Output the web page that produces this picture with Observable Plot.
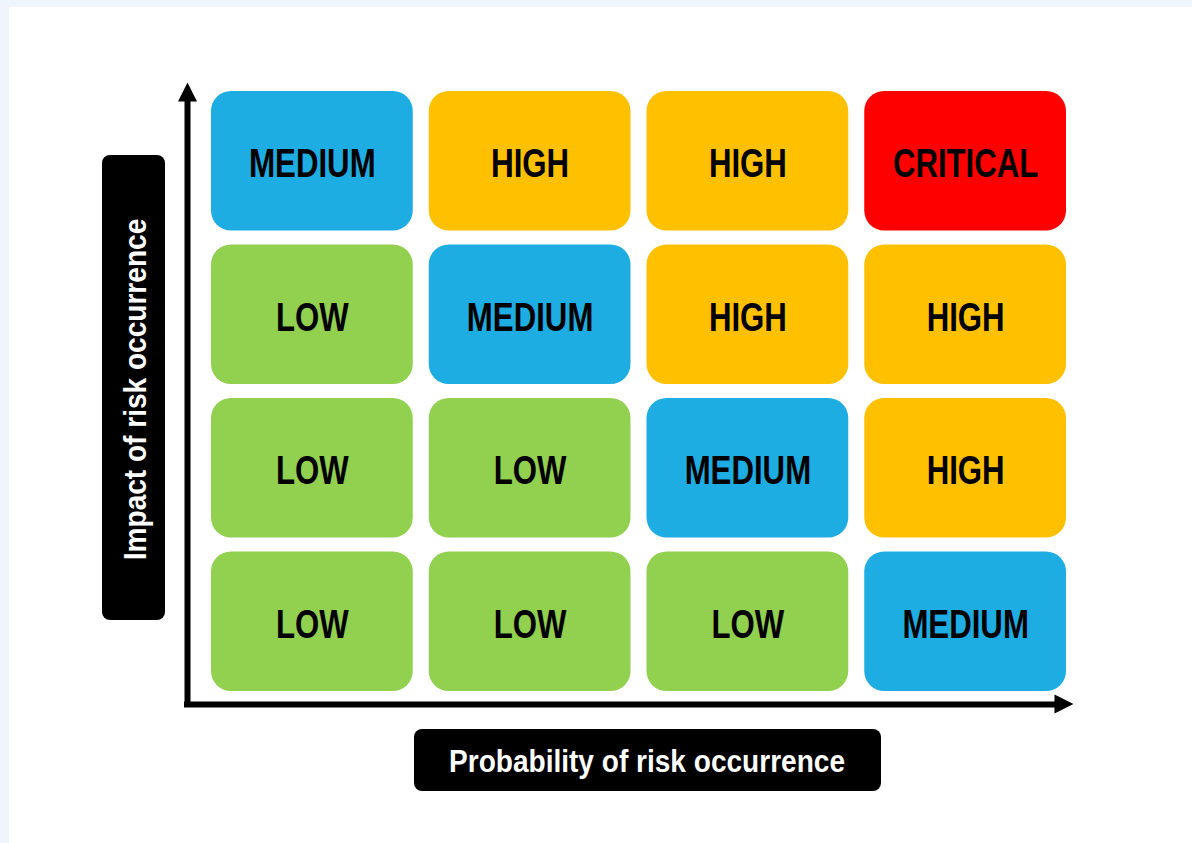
<!DOCTYPE html>
<html>
<head>
<meta charset="utf-8">
<script src="https://cdn.jsdelivr.net/npm/d3@7"></script>
<script src="https://cdn.jsdelivr.net/npm/@observablehq/plot@0.6"></script>
<style>
  html, body { margin: 0; padding: 0; background: #eef5fc; }
  #card { position: absolute; left: 9px; top: 7px; width: 1183px; height: 836px; background: #ffffff; }
  #card svg { display: block; }
</style>
</head>
<body>
<div id="card"></div>
<script>
// ---- data ----
const probabilityLevels = [1, 2, 3, 4];          // columns, left to right
const impactLevels = [4, 3, 2, 1];               // rows, top to bottom
const riskRows = [
  ["MEDIUM", "HIGH", "HIGH", "CRITICAL"],        // impact 4
  ["LOW", "MEDIUM", "HIGH", "HIGH"],             // impact 3
  ["LOW", "LOW", "MEDIUM", "HIGH"],              // impact 2
  ["LOW", "LOW", "LOW", "MEDIUM"]                // impact 1
];
const ratingNames = ["LOW", "MEDIUM", "HIGH", "CRITICAL"];
const ratingColors = ["#92d050", "#1eade3", "#ffc000", "#ff0000"];
const xLabel = "Probability of risk occurrence";
const yLabel = "Impact of risk occurrence";

const cells = [];
impactLevels.forEach((impact, r) => {
  probabilityLevels.forEach((p, c) => {
    cells.push({probability: p, impact, rating: riskRows[r][c]});
  });
});

const font = "'Liberation Sans', Arial, sans-serif";

const triUp = {draw(ctx, size) { const r = Math.sqrt(size / Math.PI); ctx.moveTo(0, -r); ctx.lineTo(r, r); ctx.lineTo(-r, r); ctx.closePath(); }};
const triRight = {draw(ctx, size) { const r = Math.sqrt(size / Math.PI); ctx.moveTo(r, 0); ctx.lineTo(-r, r); ctx.lineTo(-r, -r); ctx.closePath(); }};

const nP = probabilityLevels.length, nI = impactLevels.length;

const chart = Plot.plot({
  width: 1183,
  height: 836,
  marginLeft: 194,
  marginRight: 118,
  marginTop: 77,
  marginBottom: 145,
  x: {domain: [0, nP], axis: null},
  y: {domain: [0, nI], axis: null},
  color: {domain: ratingNames, range: ratingColors},
  style: {background: "#ffffff", fontFamily: font, overflow: "visible"},
  marks: [
    Plot.rect(cells, {
      x1: d => d.probability - 1, x2: d => d.probability,
      y1: d => d.impact - 1, y2: d => d.impact,
      fill: "rating", rx: 20,
      insetLeft: 8, insetRight: 8, insetTop: 7, insetBottom: 7
    }),
    Plot.text(cells, {
      x: d => d.probability - 0.5, y: d => d.impact - 0.5,
      text: "rating", fill: "#000000", fontSize: 40.5, fontWeight: "bold", dy: 3
    }),
    // axes with arrows
    Plot.ruleX([0], {y1: nI, y2: 0, dx: -16, insetTop: 14, insetBottom: -9, stroke: "#000000", strokeWidth: 6}),
    Plot.ruleY([0], {x1: 0, x2: nP, dy: 6, insetLeft: -19, insetRight: 18, stroke: "#000000", strokeWidth: 6}),
    Plot.dot([[0, nI]], {x: d => d[0], y: d => d[1], dx: -16, dy: 7.5, r: 9.5, symbol: triUp, fill: "#000000", stroke: "none"}),
    Plot.dot([[nP, 0]], {x: d => d[0], y: d => d[1], dx: -10.5, dy: 5.5, r: 9.5, symbol: triRight, fill: "#000000", stroke: "none"}),
    // axis label boxes
    Plot.rect([xLabel], {x1: 0, x2: nP, y1: 0, y2: 0, insetLeft: 211, insetRight: 193, insetTop: 31, insetBottom: -93, fill: "#000000", rx: 8}),
    Plot.text([xLabel], {x: nP / 2, y: 0, text: d => d, dx: 8, dy: 64, fill: "#ffffff", fontSize: 31, fontWeight: "bold"}),
    Plot.rect([yLabel], {x1: 0, x2: 0, y1: 0, y2: nI, insetLeft: -101, insetRight: 38, insetTop: 71, insetBottom: 78, fill: "#000000", rx: 8}),
    Plot.text([yLabel], {x: 0, y: nI / 2, text: d => d, rotate: -90, dx: -67.3, dy: -2, fill: "#ffffff", fontSize: 31, fontWeight: "bold"})
  ]
});

document.getElementById("card").appendChild(chart);

// condensed look: compress glyphs horizontally (no narrow face installed)
chart.querySelectorAll("text").forEach(el => {
  const isLabel = getComputedStyle(el).fill === "rgb(255, 255, 255)";
  const factor = isLabel ? 0.905 : 0.77;
  const w = el.getComputedTextLength();
  if (w > 0) {
    el.setAttribute("textLength", (w * factor).toFixed(1));
    el.setAttribute("lengthAdjust", "spacingAndGlyphs");
  }
});
</script>
</body>
</html>
